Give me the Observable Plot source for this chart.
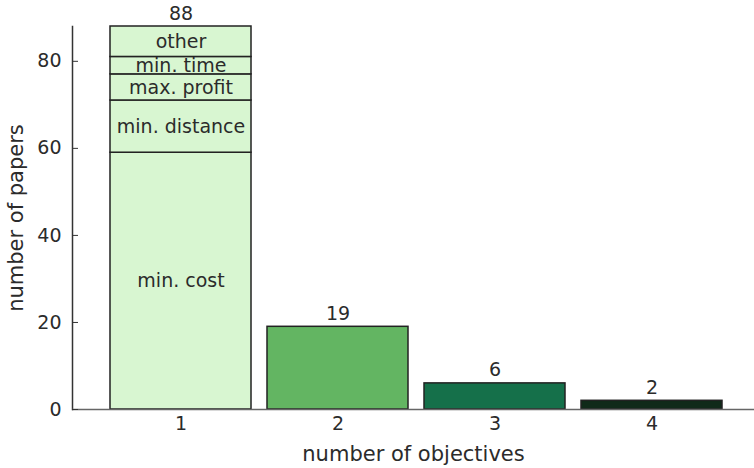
<!DOCTYPE html>
<html>
<head>
<meta charset="utf-8">
<script src="https://cdn.jsdelivr.net/npm/d3@7"></script>
<script src="https://cdn.jsdelivr.net/npm/@observablehq/plot@0.6"></script>
<style>
  html, body { margin: 0; padding: 0; background: #fff; }
</style>
</head>
<body>
<div id="chart"></div>
<script>
// Data
const objectives = ["1", "2", "3", "4"];
const totals = [88, 19, 6, 2];
const segmentLabels = ["min. cost", "min. distance", "max. profit", "min. time", "other"];
const segmentValues = [59, 12, 6, 4, 7];
const yTicks = [0, 20, 40, 60, 80];
const xLabel = "number of objectives";
const yLabel = "number of papers";

const barColors = ["#d8f6d1", "#63b562", "#15704a", "#102a19"];
const ink = "#2b2b2b";

const segments = segmentLabels.map((label, i) => ({obj: objectives[0], label, value: segmentValues[i]}));
const totalRows = objectives.map((obj, i) => ({obj, total: totals[i]}));
const otherBars = totalRows.slice(1);

const chart = Plot.plot({
  width: 754,
  height: 468,
  marginLeft: 72,
  marginRight: 0,
  marginTop: 26,
  marginBottom: 59,
  style: {fontFamily: "DejaVu Sans", fontSize: "19px", color: ink, background: "#fff"},
  x: {type: "band", domain: objectives, paddingInner: 0.1, paddingOuter: 0.218, align: 0.54, label: null},
  y: {domain: [0, 88], label: null},
  color: {domain: objectives, range: barColors},
  marks: [
    Plot.barY(segments, {x: "obj", y: "value", fill: d => d.obj, stroke: "#222", strokeWidth: 1.5}),
    Plot.barY(otherBars, {x: "obj", y: "total", fill: d => d.obj, stroke: "#222", strokeWidth: 1.5}),
    Plot.textY(segments, Plot.stackY({x: "obj", y: "value", text: "label", fill: ink, fontSize: 19})),
    Plot.text(totalRows, {x: "obj", y: "total", text: d => String(d.total), dy: -13, fill: ink, fontSize: 19}),
    Plot.frame({anchor: "left", stroke: "#333", strokeWidth: 1.5}),
    Plot.ruleY([0], {stroke: "#666", strokeWidth: 1.5}),
    Plot.axisY({ticks: yTicks, tickSize: -6, tickPadding: 17, stroke: "#333", fill: ink, fontSize: 19, label: null}),
    Plot.axisX({tickSize: 0, tickPadding: 7, fill: ink, fontSize: 19, label: null}),
    Plot.text([xLabel], {text: d => d, frameAnchor: "bottom", lineAnchor: "middle", textAnchor: "middle", dy: 45, fill: ink, fontSize: 21}),
    Plot.text([yLabel], {text: d => d, frameAnchor: "left", lineAnchor: "middle", textAnchor: "middle", dx: -56, rotate: -90, fill: ink, fontSize: 21})
  ]
});
document.getElementById("chart").appendChild(chart);
</script>
</body>
</html>
